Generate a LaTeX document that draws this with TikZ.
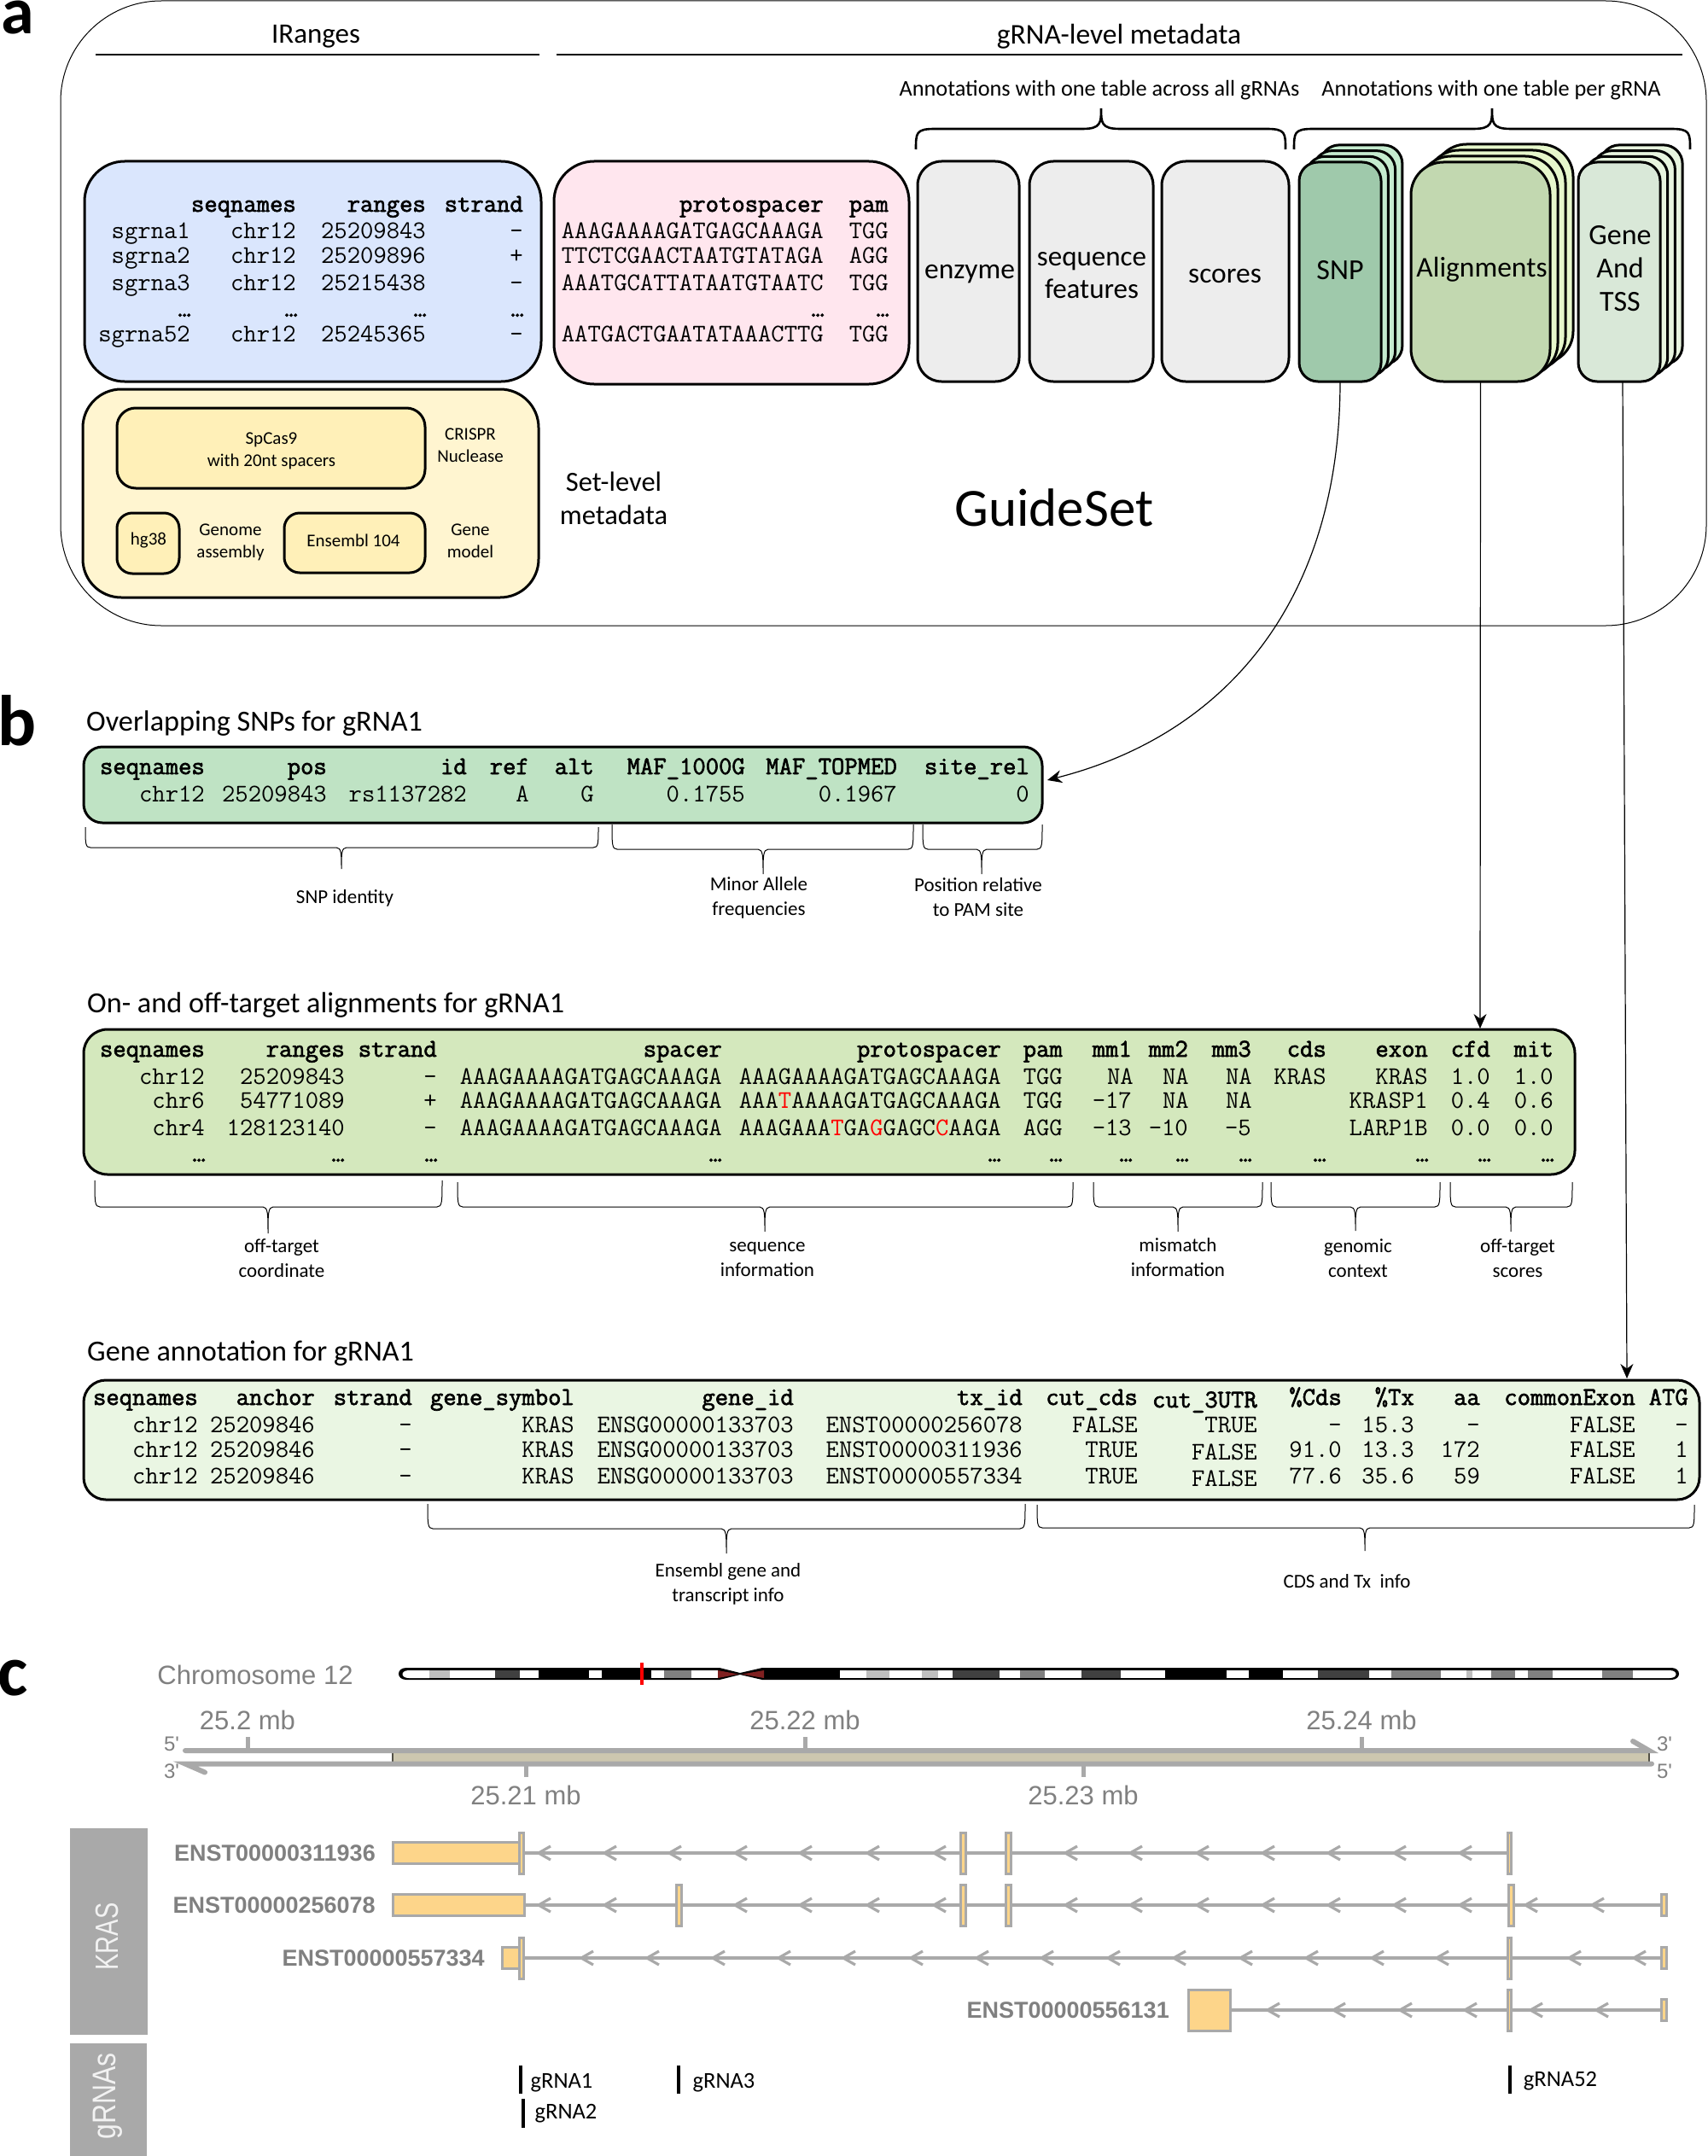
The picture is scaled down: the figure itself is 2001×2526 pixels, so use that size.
\documentclass[tikz,border=0pt]{standalone}
\usepackage{fontspec}
\setmainfont{Carlito}
\newfontfamily\hel{Liberation Sans}
\newfontfamily\mbold{Latin Modern Mono}[FakeBold=2.2]
\usetikzlibrary{arrows.meta,calc}
\definecolor{cblue}{HTML}{DAE6FD}
\definecolor{cpink}{HTML}{FFE6EE}
\definecolor{cyel}{HTML}{FFF5D0}
\definecolor{cyelin}{HTML}{FFF0B8}
\definecolor{cgrey}{HTML}{EDEDED}
\definecolor{snpf}{HTML}{9FC9AB}
\definecolor{snpb}{HTML}{C5EBCF}
\definecolor{alif}{HTML}{C2D8B0}
\definecolor{alib}{HTML}{E6F7CB}
\definecolor{genf}{HTML}{D9E8D8}
\definecolor{genb}{HTML}{E8F5DF}
\definecolor{tabb}{HTML}{BFE3C4}
\definecolor{tabc}{HTML}{D4E8BD}
\definecolor{tabd}{HTML}{EAF6E3}
\definecolor{gvz}{HTML}{A9A9A9}
\definecolor{gtxt}{HTML}{808080}
\definecolor{exon}{HTML}{FDD58A}
\definecolor{tan}{HTML}{CDC7AF}
\definecolor{cen}{HTML}{7F2020}
\tikzset{
  lab/.style 2 args={inner sep=0,align=center,font=\fontsize{#1}{#2}\selectfont},
  hl/.style={inner sep=0,align=center,text=gtxt,font=\hel\fontsize{#1}{#1}\selectfont},
  hb/.style={inner sep=0,text=gtxt,font=\hel\bfseries\fontsize{27}{30}\selectfont},
  mono/.style={inner sep=0,anchor=base east,font=\ttfamily\fontsize{29.8}{32}\selectfont},
  monob/.style={inner sep=0,anchor=base east,font=\mbold\fontsize{29.8}{32}\selectfont},
  panel/.style={inner sep=0,anchor=north west,font=\bfseries\fontsize{84}{84}\selectfont},
  title/.style={inner sep=0,anchor=west,font=\fontsize{34.2}{38}\selectfont},
  rbox/.style={draw=black,line width=3pt,inner sep=0,outer sep=0,anchor=north west},
  conn/.style={line width=1.2pt,-{Stealth[length=17pt,width=15pt]}},
  brace/.style={line width=1pt},
  bigbrace/.style={line width=2.6pt},
  tx/.style={draw=gvz,line width=4pt},
  ex/.style={draw=gvz,fill=exon,line width=3pt},
  chev/.style={draw=gvz,line width=3.2pt},
}
% \bx{name}{x1}{y1}{x2}{y2}{fill}{radius}
\newcommand\bx[7]{\node[rbox,fill=#6,rounded corners=#7pt,minimum width={((#4)-(#2))*1pt},minimum height={((#5)-(#3))*1pt}] (#1) at (#2,#3) {};}
% \trow{style}{baseline}{x/text,...}
\newcommand\trow[3]{\foreach \cx/\ct in {#3} {\node[#1] (t#2-\cx) at (\cx,#2) {\ct};}}
% \brc{x1}{x2}{ytop}{yh}{xt}{yt}{r}{style}
\newcommand\brc[8]{\draw[#8] (#1,#3) .. controls (#1,{#3+(#4-#3)*0.8}) and (#1,#4) .. ({#1+#7},#4) -- ({#5-#7},#4) .. controls (#5,#4) and (#5,{#4+(#6-#4)*0.3}) .. (#5,#6) .. controls (#5,{#4+(#6-#4)*0.3}) and (#5,#4) .. ({#5+#7},#4) -- ({#2-#7},#4) .. controls (#2,#4) and (#2,{#3+(#4-#3)*0.8}) .. (#2,#3);}
% \layers{prefix}{x1}{y1}{x2}{y2}{back}{r}{dx}{dy}
\newcommand\layers[9]{%
  \bx{#1c}{#2+#8*3}{#3-#9*3}{#4+#8*3}{#5-#9*3}{#6}{#7}
  \bx{#1b}{#2+#8*2}{#3-#9*2}{#4+#8*2}{#5-#9*2}{#6}{#7}
  \bx{#1a}{#2+#8}{#3-#9}{#4+#8}{#5-#9}{#6}{#7}}
\newcommand\chevs[2]{\foreach \cv in {#2} {\draw[chev] (\cv+14,#1-8) -- (\cv,#1) -- (\cv+14,#1+8);}}
\begin{document}
\begin{tikzpicture}[x=1pt,y=-1pt]
\useasboundingbox (0,0) rectangle (2001,2526);
% ---------- panel a ----------
\node[panel,font=\bfseries\fontsize{78}{78}\selectfont] (pa) at (1,1) {a};
\node[draw=black,line width=1pt,outer sep=0,rounded corners=118pt,inner sep=0,anchor=north west,minimum width=1928pt,minimum height=732pt] (outer) at (71,1) {};
\node[lab={33}{38}] (irng) at (370,43) {IRanges};
\coordinate (l1a) at (112,64); \coordinate (l1b) at (632,64);
\coordinate (l2a) at (652,64); \coordinate (l2b) at (1971,64);
\draw[line width=2pt] (l1a) -- (l1b);
\draw[line width=2pt] (l2a) -- (l2b);
\node[lab={33.5}{38}] (meta) at (1311,43) {gRNA-level metadata};
\node[lab={26.3}{30}] (ann1) at (1288,106) {Annotations with one table across all gRNAs};
\node[lab={26.3}{30}] (ann2) at (1747,106) {Annotations with one table per gRNA};
\brc{1073}{1506}{175}{151}{1290}{127}{22}{bigbrace}
\brc{1516}{1980}{175}{151}{1748}{127}{22}{bigbrace}
% blue table
\bx{blue}{99}{189}{634}{447}{cblue}{47}
\trow{monob}{248}{347/seqnames,499/ranges,613/strand}
\trow{mono}{279}{223/sgrna1,347/chr12,499/25209843,613/-}
\trow{mono}{308}{223/sgrna2,347/chr12,499/25209896,613/+}
\trow{mono}{340}{223/sgrna3,347/chr12,499/25215438,613/-}
\trow{monob}{371}{224/…,349/…,500/…,614/…}
\trow{mono}{400}{223/sgrna52,347/chr12,499/25245365,613/-}
% pink table
\bx{pink}{649}{189}{1065}{450}{cpink}{47}
\trow{monob}{248}{965/protospacer,1041/pam}
\trow{mono}{279}{965/AAAGAAAAGATGAGCAAAGA,1041/TGG}
\trow{mono}{308}{965/TTCTCGAACTAATGTATAGA,1041/AGG}
\trow{mono}{340}{965/AAATGCATTATAATGTAATC,1041/TGG}
\trow{monob}{371}{966/…,1042/…}
\trow{mono}{400}{965/AATGACTGAATATAAACTTG,1041/TGG}
% grey boxes
\bx{enz}{1075}{189}{1194}{447}{cgrey}{28}
\bx{seqf}{1206}{189}{1351}{447}{cgrey}{28}
\bx{scor}{1361}{189}{1510}{447}{cgrey}{28}
\node[lab={33.5}{38}] (enzt) at (1136,321) {enzyme};
\node[lab={33}{38}] (seqt) at (1279,323) {sequence\\features};
\node[lab={33.5}{38}] (scot) at (1435,323) {scores};
% stacks
\layers{snp}{1522}{190}{1618}{447}{snpb}{22}{8.3}{6.7}
\bx{snp}{1522}{190}{1618}{447}{snpf}{22}
\node[lab={34}{38}] (snpt) at (1570,317) {SNP};
\layers{ali}{1653}{190}{1816}{447}{alib}{38}{9}{7}
\bx{ali}{1653}{190}{1816}{447}{alif}{38}
\node[lab={33.5}{38}] (alit) at (1736,316) {Alignments};
\layers{gen}{1849}{190}{1945}{447}{genb}{22}{8.7}{6.7}
\bx{gen}{1849}{190}{1945}{447}{genf}{22}
\node[lab={34}{39}] (gent) at (1898,315) {Gene\\And\\TSS};
% set level
\bx{yel}{97}{456}{631}{700}{cyel}{45}
\bx{cas}{137}{478}{498}{572}{cyelin}{22}
\bx{hg}{137}{601}{210}{672}{cyelin}{18}
\bx{ens}{333}{601}{498}{671}{cyelin}{18}
\node[lab={21}{26}] (cast) at (318,528) {SpCas9\\with 20nt spacers};
\node[lab={21}{26}] (crt) at (551,522) {CRISPR\\Nuclease};
\node[lab={21}{26}] (hgt) at (174,633) {hg38};
\node[lab={21}{26}] (gat) at (270,635) {Genome\\assembly};
\node[lab={21}{26}] (enst) at (414,633) {Ensembl 104};
\node[lab={21}{26}] (gmt) at (551,634) {Gene\\model};
\node[lab={32.5}{39}] (setl) at (719,584) {Set-level\\metadata};
\node[lab={63}{70}] (gs) at (1235,595) {GuideSet};
% ---------- panel b ----------
\node[panel] (pb) at (-3,814) {b};
\node[title] (tb1) at (101,848) {Overlapping SNPs for gRNA1};
\bx{tsnp}{98}{875}{1221}{964}{tabb}{22}
\trow{monob}{907}{240/seqnames,383/pos,547/id,620/ref,696/alt,873/MAF\_1000G,1051/MAF\_TOPMED,1206/site\_rel}
\trow{mono}{939}{240/chr12,383/25209843,547/rs1137282,620/A,696/G,873/0.1755,1051/0.1967,1206/0}
\brc{100}{701}{969}{993}{400}{1018}{6}{brace}
\brc{717}{1070}{966}{995}{894}{1024}{6}{brace}
\brc{1081}{1221}{966}{995}{1150}{1024}{6}{brace}
\node[lab={23}{29}] (l1) at (404,1052) {SNP identity};
\node[lab={23}{29}] (l2) at (889,1052) {Minor Allele\\frequencies};
\node[lab={23}{29}] (l3) at (1146,1051) {Position relative\\to PAM site};
% alignments
\node[title] (tb2) at (102,1178) {On- and off-target alignments for gRNA1};
\bx{tali}{98}{1206}{1845}{1376}{tabc}{28}
\trow{monob}{1238}{240/seqnames,404/ranges,512/strand,846/spacer,1173/protospacer,1245/pam,1326/mm1,1392/mm2,1466/mm3,1554/cds,1673/exon,1746/cfd,1820/mit}
\trow{mono}{1270}{240/chr12,404/25209843,512/-,846/AAAGAAAAGATGAGCAAAGA,1173/AAAGAAAAGATGAGCAAAGA,1245/TGG,1328/NA,1393/NA,1467/NA,1554/KRAS,1673/KRAS,1746/1.0,1820/1.0}
\trow{mono}{1298}{240/chr6,404/54771089,512/+,846/AAAGAAAAGATGAGCAAAGA,1173/{AAA\textcolor{red}{T}AAAAGATGAGCAAAGA},1245/TGG,1326/-17,1393/NA,1467/NA,1673/KRASP1,1746/0.4,1820/0.6}
\trow{mono}{1330}{240/chr4,404/128123140,512/-,846/AAAGAAAAGATGAGCAAAGA,1173/{AAAGAAA\textcolor{red}{T}GA\textcolor{red}{G}GAGC\textcolor{red}{C}AAGA},1245/AGG,1326/-13,1392/-10,1466/-5,1673/LARP1B,1746/0.0,1820/0.0}
\trow{monob}{1361}{241/…,404/…,513/…,846/…,1173/…,1245/…,1327/…,1393/…,1467/…,1554/…,1674/…,1747/…,1821/…}
\brc{111}{518}{1383}{1414}{314}{1445}{6}{brace}
\brc{536}{1257}{1385}{1414}{896}{1443}{6}{brace}
\brc{1281}{1479}{1385}{1414}{1380}{1443}{6}{brace}
\brc{1489}{1687}{1385}{1414}{1588}{1442}{6}{brace}
\brc{1699}{1842}{1385}{1414}{1770}{1443}{6}{brace}
\node[lab={23}{29}] (l4) at (330,1474) {off-target\\coordinate};
\node[lab={23}{29}] (l5) at (899,1475) {sequence\\information};
\node[lab={23}{29}] (l6) at (1380,1473) {mismatch\\information};
\node[lab={23}{29}] (l7) at (1591,1474) {genomic\\context};
\node[lab={23}{29}] (l8) at (1778,1474) {off-target\\scores};
% gene annotation
\node[title] (tb3) at (102,1586) {Gene annotation for gRNA1};
\bx{tgen}{98}{1617}{1991}{1757}{tabd}{26}
\trow{monob}{1646}{232/seqnames,369/anchor,483/strand,673/gene\_symbol,930/gene\_id,1198/tx\_id,1333/cut\_cds,1572/\%Cds,1657/\%Tx,1734/aa,1916/commonExon,1978/ATG}
\trow{monob}{1649}{1473/cut\_3UTR}
\trow{mono}{1678}{232/chr12,369/25209846,483/-,673/KRAS,930/ENSG00000133703,1198/ENST00000256078,1333/FALSE,1473/TRUE,1572/-,1657/15.3,1734/-,1916/FALSE,1978/-}
\trow{mono}{1707}{232/chr12,369/25209846,483/-,673/KRAS,930/ENSG00000133703,1198/ENST00000311936,1333/TRUE,1572/91.0,1657/13.3,1734/172,1916/FALSE,1978/1}
\trow{mono}{1710}{1473/FALSE}
\trow{mono}{1738}{232/chr12,369/25209846,483/-,673/KRAS,930/ENSG00000133703,1198/ENST00000557334,1333/TRUE,1572/77.6,1657/35.6,1734/59,1916/FALSE,1978/1}
\trow{mono}{1741}{1473/FALSE}
\brc{501}{1201}{1762}{1791}{851}{1820}{6}{brace}
\brc{1215}{1985}{1763}{1790}{1599}{1817}{6}{brace}
\node[lab={23}{29}] (l9) at (853,1856) {Ensembl gene and\\transcript info};
\node[lab={23}{29}] (l10) at (1578,1853) {CDS and Tx~~info};
% connectors
\coordinate (snpTip) at (1227,914);
\coordinate (aliTip) at (1734,1205);
\coordinate (genFrom) at (1901,447);
\coordinate (genTip) at (1906,1615);
\draw[conn] (snp.south) .. controls (1570,700) and (1440,860) .. (snpTip);
\draw[conn] (ali.south) -- (aliTip);
\draw[conn] (genFrom) -- (genTip);
% ---------- panel c ----------
\node[panel] (pc) at (-3,1945) {c};
\node[hl=31,anchor=center] (chr) at (299,1962) {Chromosome 12};
% ideogram
\fill[black] (476,1954) -- (843,1954) -- (867,1960) -- (893,1954) -- (1958,1954) .. controls (1970,1954) and (1970,1968) .. (1958,1968) -- (893,1968) -- (867,1962) -- (843,1968) -- (476,1968) .. controls (464,1968) and (464,1954) .. (476,1954) -- cycle;
\fill[white] (503,1957) -- (479,1957) .. controls (469,1957) and (469,1966) .. (479,1966) -- (503,1966) -- cycle;
\fill[white] (1913,1957) -- (1956,1957) .. controls (1966,1957) and (1966,1966) .. (1956,1966) -- (1913,1966) -- cycle;
\foreach \xa/\xb/\cc in {503/526.5/gray!50,526.5/580/white,580/609/black!75,609/631/white,690/705/white,762.6/777.5/white,777.5/810/gray,810/841/white,984/1015/white,1015/1041.5/gray!50,1041.5/1080/white,1080/1099/gray!50,1099/1116/white,1116/1171/black!75,1171/1195/white,1195/1223.5/gray,1223.5/1267/white,1267/1313/black!75,1313/1365/white,1437/1463/white,1503/1544/white,1544/1604/black!75,1604/1630/white,1630/1688/gray,1688/1718/white,1718/1725/gray!50,1725/1747/white,1747/1775/gray,1775/1790/white,1790/1819/gray,1819/1877/white,1877/1913/gray}
  {\fill[\cc] (\xa,1957) rectangle (\xb,1966);}
\fill[cen] (841,1957) -- (865,1961.5) -- (841,1966) -- cycle;
\fill[cen] (895,1957) -- (869,1961.5) -- (895,1966) -- cycle;
\draw[red,line width=3.5pt] (752,1948) -- (752,1974);
% axis
\fill[tan] (460,2051) rectangle (1932,2066);
\draw[draw=black!60!tan,line width=2pt] (460,2052) -- (460,2066);
\draw[draw=black!60!tan,line width=2pt] (1932,2052) -- (1932,2066);
\draw[gvz,line width=6pt,line cap=round] (217,2051) -- (1932,2051) -- (1913,2040);
\draw[gvz,line width=6pt,line cap=round] (240,2076.5) -- (217,2066.5) -- (1935,2066.5);
\foreach \tx in {290,943,1595} {\draw[gvz,line width=5pt] (\tx,2035) -- (\tx,2051);}
\foreach \tx in {616,1269} {\draw[gvz,line width=5pt] (\tx,2066) -- (\tx,2082);}
\node[hl=31] (m1) at (290,2015) {25.2 mb};
\node[hl=31] (m2) at (943,2015) {25.22 mb};
\node[hl=31] (m3) at (1595,2015) {25.24 mb};
\node[hl=31] (m4) at (616,2103) {25.21 mb};
\node[hl=31] (m5) at (1269,2103) {25.23 mb};
\node[hl=24] (p1) at (201,2043) {5'};
\node[hl=24] (p2) at (201,2075) {3'};
\node[hl=24] (p3) at (1950,2043) {3'};
\node[hl=24] (p4) at (1950,2075) {5'};
% side panels
\fill[gvz] (82,2142) rectangle (173,2384);
\fill[gvz] (82,2394) rectangle (172,2526);
\node[inner sep=0,rotate=90,text=white!95!black,font=\hel\fontsize{29}{30}\selectfont] (kr) at (126,2269) {\scalebox{1}[1.3]{KRAS}};
\node[inner sep=0,rotate=90,text=white!95!black,font=\hel\fontsize{32}{34}\selectfont] (gr) at (126,2456) {\scalebox{1}[1.2]{gRNAs}};
% transcripts
\node[hb,anchor=east] (e1) at (440,2171) {ENST00000311936};
\node[hb,anchor=east] (e2) at (440,2232) {ENST00000256078};
\node[hb,anchor=east] (e3) at (568,2294) {ENST00000557334};
\node[hb,anchor=east] (e4) at (1370,2355) {ENST00000556131};
\draw[tx] (612,2171) -- (1768,2171);
\draw[tx] (614,2232) -- (1949,2232);
\draw[tx] (612,2294) -- (1949,2294);
\draw[tx] (1441,2355) -- (1949,2355);
\chevs{2171}{631,708,784,861,937,1016,1094,1248,1324,1402,1479,1556,1633,1710}
\chevs{2232}{631,708,861,937,1016,1094,1248,1324,1402,1479,1556,1633,1710,1787,1865}
\chevs{2294}{681,758,835,912,988,1067,1144,1220,1298,1375,1453,1530,1607,1683,1838,1914}
\chevs{2355}{1485,1562,1640,1716,1793,1870}
% exons: {x1/x2/row centre/half height}
\foreach \xa/\xb/\yc/\hh in {
  460/612/2171/12.5, 608.5/613.5/2171/24, 1125.5/1131/2171/24, 1178/1184.5/2171/24, 1766/1770/2171/24,
  460/614/2232/12.5, 792/798/2232/24, 1125.5/1131/2232/24, 1178/1184.5/2232/24, 1767/1773/2232/24, 1946/1952/2232/12.5,
  588/612/2294/12.5, 608.5/613.5/2294/24, 1766.5/1770.5/2294/24, 1946/1952/2294/12.5,
  1392/1441/2355/24, 1766.5/1770.5/2355/24, 1946/1952/2355/12.5}
  {\draw[ex] (\xa,\yc-\hh) rectangle (\xb,\yc+\hh);}
% gRNA marks
\coordinate (g1a) at (610,2420); \coordinate (g1b) at (610,2453);
\coordinate (g2a) at (613,2459); \coordinate (g2b) at (613,2493);
\coordinate (g3a) at (795,2420); \coordinate (g3b) at (795,2453);
\coordinate (g4a) at (1769,2420); \coordinate (g4b) at (1769,2453);
\draw[line width=3.5pt] (g1a) -- (g1b);
\draw[line width=3.5pt] (g2a) -- (g2b);
\draw[line width=3.5pt] (g3a) -- (g3b);
\draw[line width=3.5pt] (g4a) -- (g4b);
\node[lab={26.5}{30}] (gl1) at (658,2440) {gRNA1};
\node[lab={26.5}{30}] (gl2) at (663,2476) {gRNA2};
\node[lab={26.5}{30}] (gl3) at (848,2440) {gRNA3};
\node[lab={26.5}{30}] (gl4) at (1828,2438) {gRNA52};
\end{tikzpicture}
\end{document}
